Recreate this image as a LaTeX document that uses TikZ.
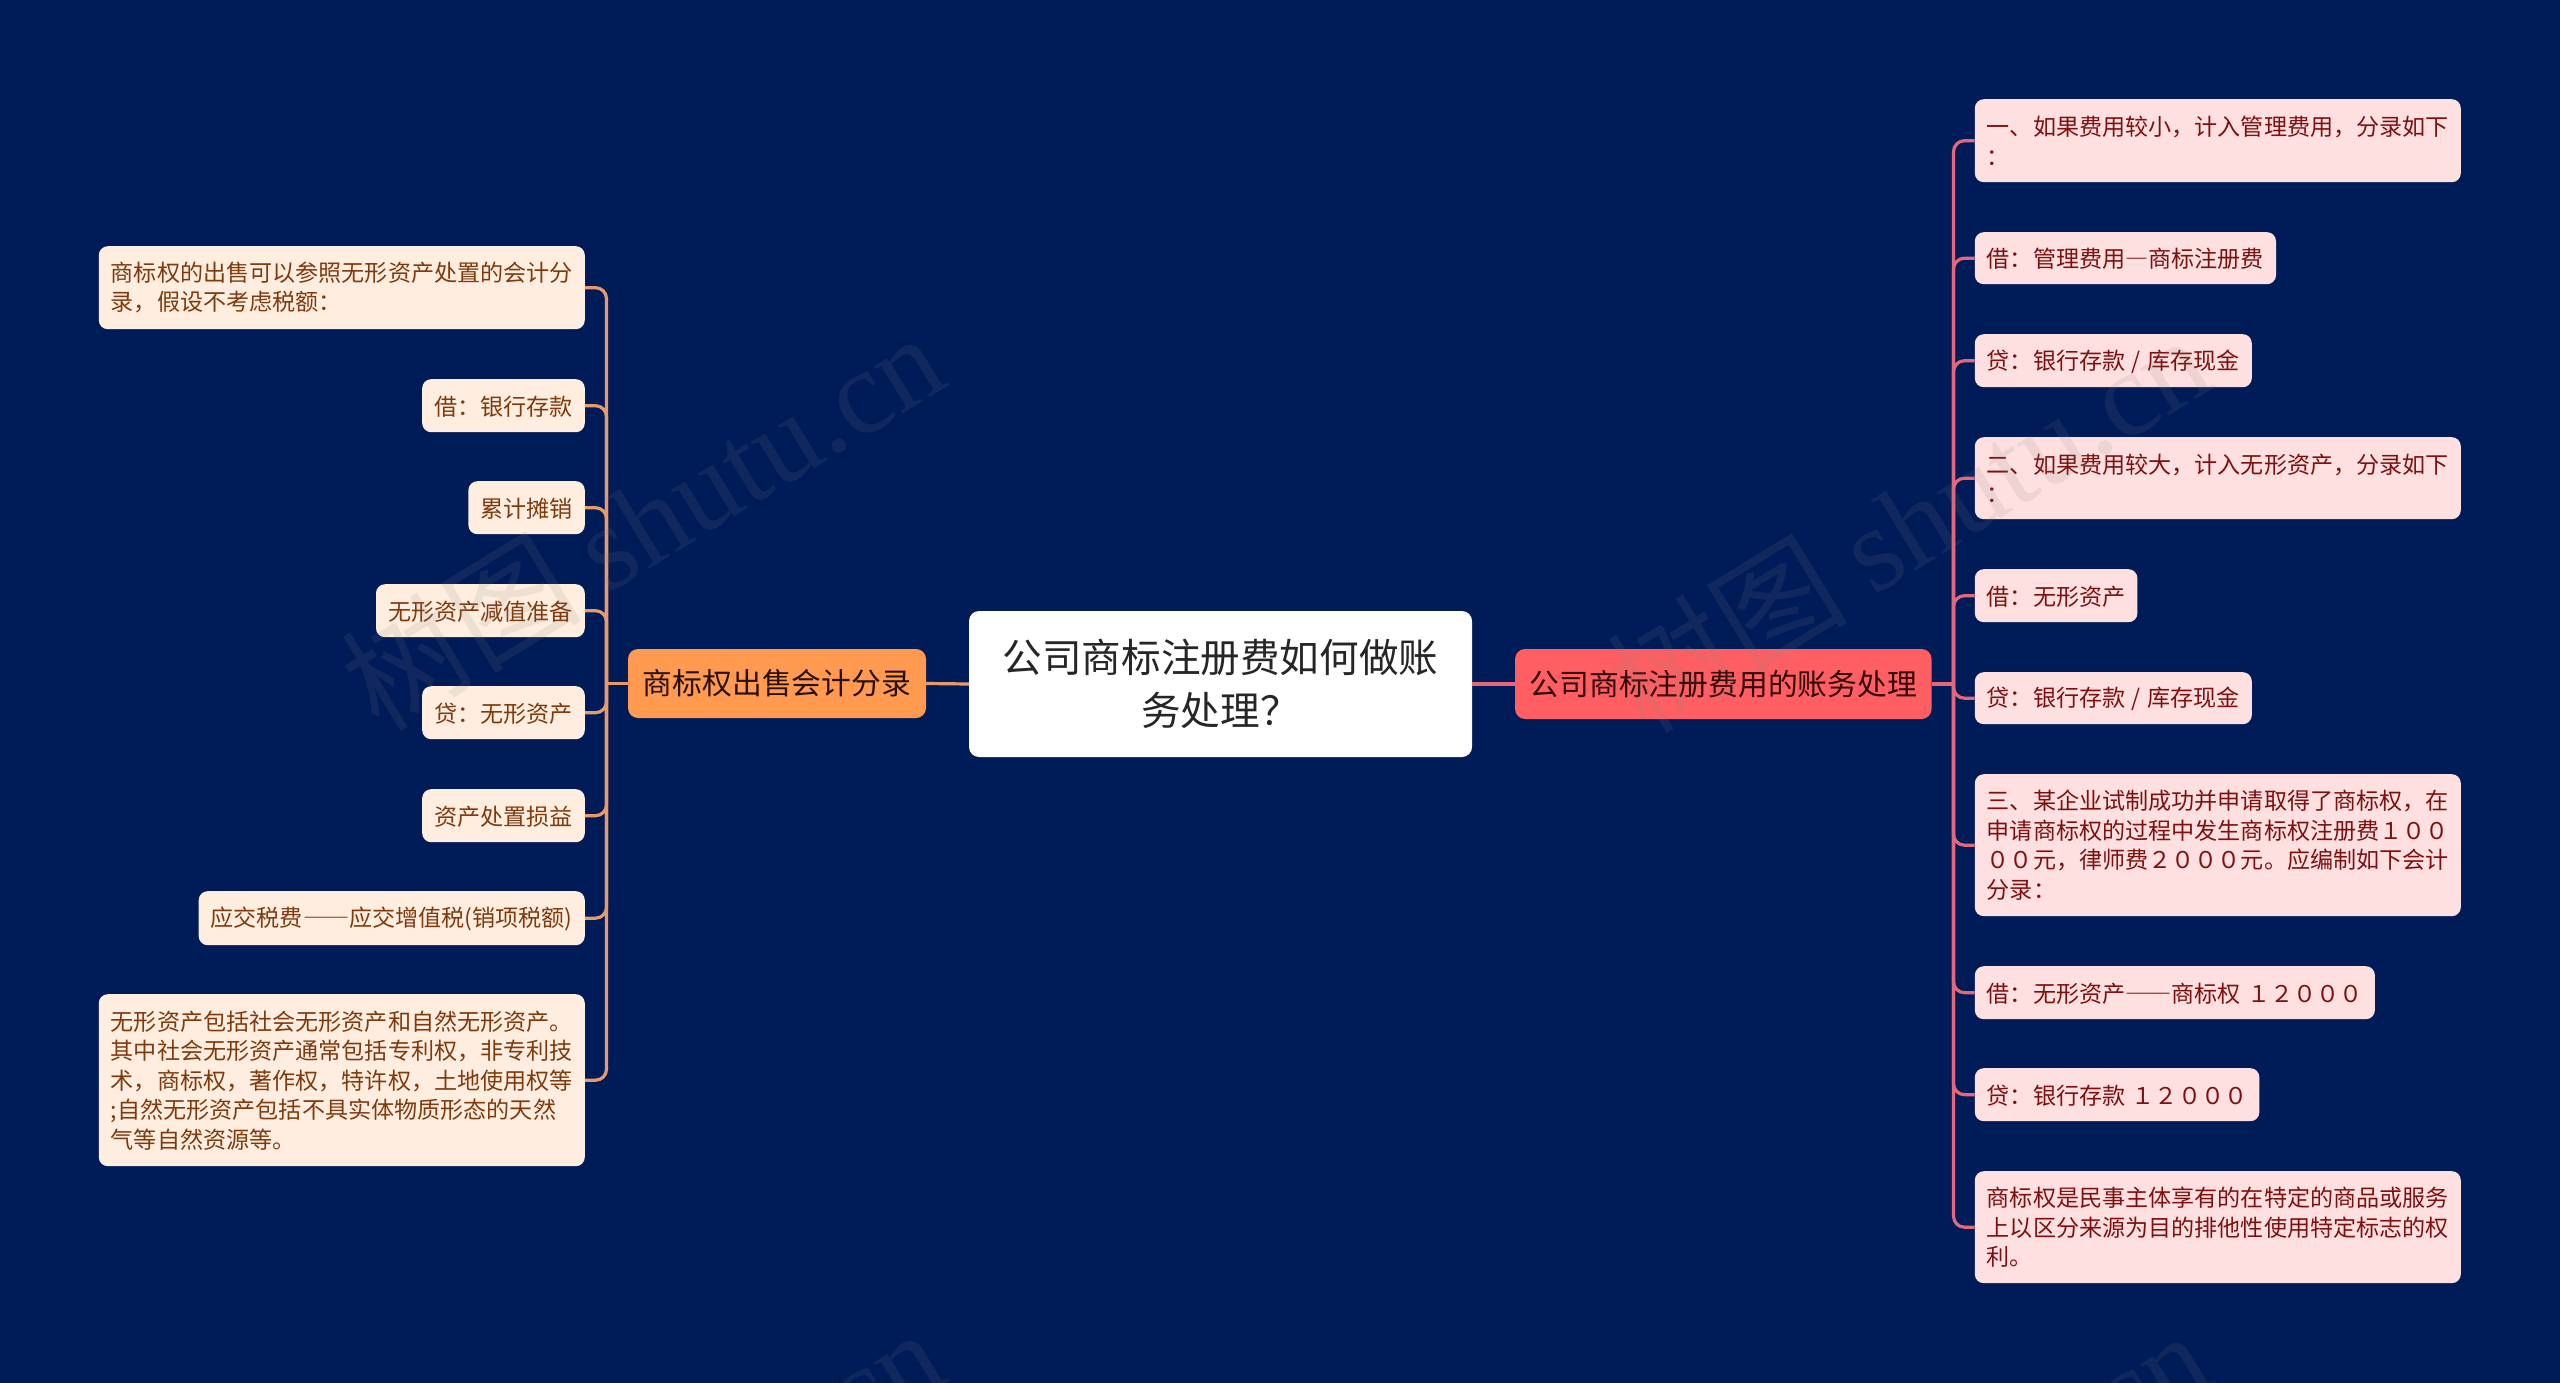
\documentclass[tikz,border=0pt]{standalone}
\usepackage{fontspec}
\setmainfont{Noto Sans CJK SC}
\newfontfamily\wmfont{Liberation Serif}
\newfontfamily\dashfont[RawFeature=+fwid]{Noto Sans CJK SC}
\newcommand{\cdash}[1]{{\dashfont #1}}
\newcommand{\leaffont}{\fontsize{23.1}{29.5}\selectfont\spaceskip=0.28em\relax}
\usepackage{tikz}
\definecolor{bgblue}{HTML}{001C58}
\definecolor{lfill}{HTML}{FFEEE0}
\definecolor{ltext}{HTML}{7F3A0E}
\definecolor{lline}{HTML}{E99A6A}
\definecolor{lmain}{HTML}{FF9A50}
\definecolor{rfill}{HTML}{FFE0E0}
\definecolor{rtext}{HTML}{7F1010}
\definecolor{rline}{HTML}{E5687A}
\definecolor{rmainc}{HTML}{FF5F62}
\tikzset{
  leafbox/.style={rounded corners=9pt,inner xsep=12pt,inner ysep=0pt,align=left,
    font=\leaffont,
    execute at begin node={\vrule width 0pt height 21.5pt\relax}},
  lleaf/.style={leafbox,fill=lfill,text=ltext,anchor=north east},
  rleaf/.style={leafbox,fill=rfill,text=rtext,anchor=north west},
  lnk/.style={line width=3.2pt,rounded corners=11pt},
  wmark/.style={text=gray,text opacity=0.13,rotate=31.4,font=\fontsize{120}{120}\selectfont}
}
\begin{document}
\begin{tikzpicture}[x=1pt,y=-1pt]
\useasboundingbox (0,0) rectangle (2560,1383);
\fill[bgblue] (0,0) rectangle (2560,1383);
% centre and the two branches
\node[fill=white,rounded corners=10pt,align=center,text=black!85,minimum width=503pt,minimum height=146pt,
  font=\fontsize{39.6}{53}\selectfont] (topic) at (1220.5,684) {公司商标注册费如何做账\\务处理？};
\node[fill=lmain,rounded corners=10pt,text=black!70!ltext,minimum width=298pt,minimum height=69pt,
  font=\fontsize{29.8}{36}\selectfont] (lmainnode) at (777,683.5) {商标权出售会计分录};
\node[fill=rmainc,rounded corners=10pt,text=black!60!rtext,minimum width=416.5pt,minimum height=70pt,
  font=\fontsize{29.8}{36}\selectfont] (rmainnode) at (1723.3,684) {公司商标注册费用的账务处理};
\coordinate (ltrunk) at (606.5,683.5);
\coordinate (rtrunk) at (1953.5,684);
% left leaves
\node[lleaf,minimum height=83pt] (l1) at (585,246) {商标权的出售可以参照无形资产处置的会计分\\录，假设不考虑税额：};
\node[lleaf,minimum height=53pt] (l2) at (585,379) {借：银行存款};
\node[lleaf,minimum height=53pt] (l3) at (585,481) {累计摊销};
\node[lleaf,minimum height=53pt] (l4) at (585,584) {无形资产减值准备};
\node[lleaf,minimum height=53pt] (l5) at (585,686) {贷：无形资产};
\node[lleaf,minimum height=53pt] (l6) at (585,789) {资产处置损益};
\node[lleaf,minimum height=54pt] (l7) at (585,891) {应交税费\cdash{——}应交增值税(销项税额)};
\node[lleaf,minimum height=172pt] (l8) at (585,994) {无形资产包括社会无形资产和自然无形资产。\\其中社会无形资产通常包括专利权，非专利技\\术，商标权，著作权，特许权，土地使用权等\\;自然无形资产包括不具实体物质形态的天然\\气等自然资源等。};
% right leaves
\node[rleaf,minimum height=83pt] (r1) at (1974.6,99) {一、如果费用较小，计入管理费用，分录如下\\：};
\node[rleaf,minimum height=52pt] (r2) at (1974.6,232) {借：管理费用\cdash{—}商标注册费};
\node[rleaf,minimum height=53pt] (r3) at (1974.6,334) {贷：银行存款 / 库存现金};
\node[rleaf,minimum height=82pt] (r4) at (1974.6,437) {二、如果费用较大，计入无形资产，分录如下\\：};
\node[rleaf,minimum height=53pt] (r5) at (1974.6,569) {借：无形资产};
\node[rleaf,minimum height=52pt] (r6) at (1974.6,672) {贷：银行存款 / 库存现金};
\node[rleaf,minimum height=142pt] (r7) at (1974.6,774) {三、某企业试制成功并申请取得了商标权，在\\申请商标权的过程中发生商标权注册费１００\\００元，律师费２０００元。应编制如下会计\\分录：};
\node[rleaf,minimum height=53pt] (r8) at (1974.6,966) {借：无形资产\cdash{——}商标权 １２０００};
\node[rleaf,minimum height=53pt] (r9) at (1974.6,1068) {贷：银行存款 １２０００};
\node[rleaf,minimum height=112pt] (r10) at (1974.6,1171) {商标权是民事主体享有的在特定的商品或服务\\上以区分来源为目的排他性使用特定标志的权\\利。};
% connectors
\draw[lnk,lline] (topic.west) -- (lmainnode.east);
\draw[lnk,rline] (topic.east) -- (rmainnode.west);
\draw[lnk,lline] (lmainnode.west) -- (ltrunk);
\draw[lnk,rline] (rmainnode.east) -- (rtrunk);
\draw[lnk,lline] (ltrunk) -- (ltrunk |- l1.east) -- (l1.east);
\draw[lnk,lline] (ltrunk) -- (ltrunk |- l2.east) -- (l2.east);
\draw[lnk,lline] (ltrunk) -- (ltrunk |- l3.east) -- (l3.east);
\draw[lnk,lline] (ltrunk) -- (ltrunk |- l4.east) -- (l4.east);
\draw[lnk,lline] (ltrunk) -- (ltrunk |- l5.east) -- (l5.east);
\draw[lnk,lline] (ltrunk) -- (ltrunk |- l6.east) -- (l6.east);
\draw[lnk,lline] (ltrunk) -- (ltrunk |- l7.east) -- (l7.east);
\draw[lnk,lline] (ltrunk) -- (ltrunk |- l8.east) -- (l8.east);
\draw[lnk,rline] (rtrunk) -- (rtrunk |- r1.west) -- (r1.west);
\draw[lnk,rline] (rtrunk) -- (rtrunk |- r2.west) -- (r2.west);
\draw[lnk,rline] (rtrunk) -- (rtrunk |- r3.west) -- (r3.west);
\draw[lnk,rline] (rtrunk) -- (rtrunk |- r4.west) -- (r4.west);
\draw[lnk,rline] (rtrunk) -- (rtrunk |- r5.west) -- (r5.west);
\draw[lnk,rline] (rtrunk) -- (rtrunk |- r6.west) -- (r6.west);
\draw[lnk,rline] (rtrunk) -- (rtrunk |- r7.west) -- (r7.west);
\draw[lnk,rline] (rtrunk) -- (rtrunk |- r8.west) -- (r8.west);
\draw[lnk,rline] (rtrunk) -- (rtrunk |- r9.west) -- (r9.west);
\draw[lnk,rline] (rtrunk) -- (rtrunk |- r10.west) -- (r10.west);
% watermark
\node[wmark] (w1) at (642,520) {树图 {\wmfont shutu.cn}};
\node[wmark] (w2) at (1908,522) {树图 {\wmfont shutu.cn}};
\node[wmark] (w3) at (642,1516) {树图 {\wmfont shutu.cn}};
\node[wmark] (w4) at (1908,1518) {树图 {\wmfont shutu.cn}};
\end{tikzpicture}
\end{document}
